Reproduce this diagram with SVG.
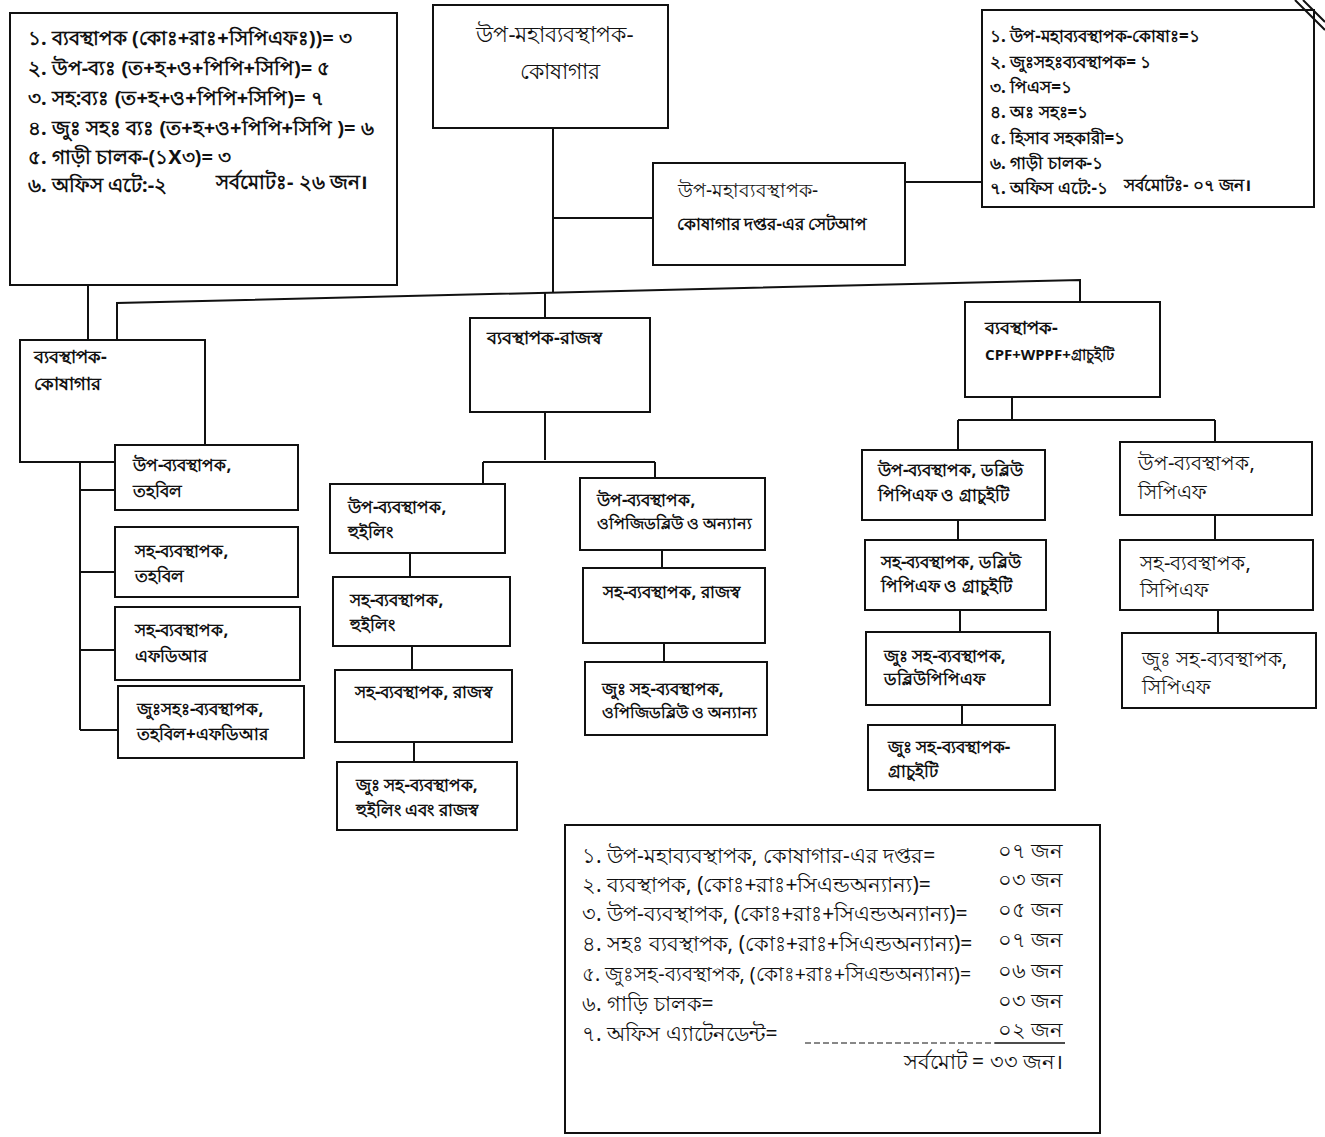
<svg xmlns="http://www.w3.org/2000/svg" width="1325" height="1137" viewBox="0 0 1325 1137">
<style>
.box{fill:#fff;stroke:#111;stroke-width:2}
.ln{stroke:#111;stroke-width:2;fill:none}
text{font-family:"Noto Sans","Liberation Sans",sans-serif;fill:#111}
.n{font-size:17px;font-weight:bold}
.nl{font-size:20px}
.mg{font-size:18px;font-weight:bold}
.tl{font-size:20px;font-weight:bold}
.tr{font-size:17px;font-weight:bold}
.sm{font-size:21px}
.ttl{font-size:22px}
</style>
<rect width="1325" height="1137" fill="#fff"/>
<g id="connectors">
<path class="ln" d="M553 128 V292"/>
<path class="ln" d="M553 218 H653"/>
<path class="ln" d="M905 182 H982"/>
<path class="ln" d="M117 340 V303 L1080 280 V302"/>
<path class="ln" d="M88 285 V340"/>
<path class="ln" d="M545 292 V318"/>
<path class="ln" d="M80 462 V730 M80 490 H115 M80 572 H115 M80 650 H115 M80 730 H118"/>
<path class="ln" d="M545 412 V460 M483 462 H655 M483 462 V484 M655 462 V478"/>
<path class="ln" d="M410 553 V577 M412 646 V670 M414 742 V762"/>
<path class="ln" d="M662 550 V568 M664 643 V662"/>
<path class="ln" d="M1012 397 V420 M958 420 H1215 M958 420 V450 M1215 420 V442"/>
<path class="ln" d="M958 520 V540 M960 610 V632 M962 705 V725"/>
<path class="ln" d="M1215 515 V540 M1218 610 V633"/>
</g>
<g id="note-left">
<rect class="box" x="10" y="13" width="387" height="272"/>
<text class="tl" x="28" y="45">১. ব্যবস্থাপক  (কোঃ+রাঃ+সিপিএফঃ))= ৩</text>
<text class="tl" x="28" y="75">২. উপ-ব্যঃ (ত+হ+ও+পিপি+সিপি)= ৫</text>
<text class="tl" x="28" y="105">৩. সহ:ব্যঃ (ত+হ+ও+পিপি+সিপি)= ৭</text>
<text class="tl" x="28" y="135">৪. জুঃ সহঃ ব্যঃ (ত+হ+ও+পিপি+সিপি  )= ৬</text>
<text class="tl" x="28" y="164">৫. গাড়ী চালক-(১X৩)= ৩</text>
<text class="tl" x="28" y="192">৬. অফিস এটে:-২</text>
<text class="tl" x="216" y="189">সর্বমোটঃ- ২৬ জন।</text>
</g>
<g id="dgm">
<rect class="box" x="433" y="5" width="235" height="123"/>
<text class="ttl" x="555" y="42" text-anchor="middle">উপ-মহাব্যবস্থাপক-</text>
<text class="ttl" x="560" y="79" text-anchor="middle">কোষাগার</text>
</g>
<g id="note-right">
<rect class="box" x="982" y="10" width="332" height="197"/>
<text class="tr" x="990" y="42">১. উপ-মহাব্যবস্থাপক-কোষাঃ=১</text>
<text class="tr" x="990" y="68">২. জুঃসহঃব্যবস্থাপক= ১</text>
<text class="tr" x="990" y="93">৩. পিএস=১</text>
<text class="tr" x="990" y="118">৪. অঃ সহঃ=১</text>
<text class="tr" x="990" y="144">৫. হিসাব সহকারী=১</text>
<text class="tr" x="990" y="169">৬. গাড়ী চালক-১</text>
<text class="tr" x="990" y="194">৭. অফিস এটে:-১</text>
<text class="tr" x="1124" y="191">সর্বমোটঃ- ০৭ জন।</text>
</g>
<g id="setup">
<rect class="box" x="653" y="163" width="252" height="102"/>
<text style="font-size:19px" x="678" y="197">উপ-মহাব্যবস্থাপক-</text>
<text style="font-size:17px;font-weight:bold" x="677" y="230">কোষাগার দপ্তর-এর সেটআপ</text>
</g>
<g id="mgr-treasury">
<rect class="box" x="20" y="340" width="185" height="122"/>
<text class="mg" x="34" y="363">ব্যবস্থাপক-</text>
<text class="mg" x="34" y="390">কোষাগার</text>
</g>
<g id="mgr-revenue">
<rect class="box" x="470" y="318" width="180" height="94"/>
<text class="mg" x="487" y="344">ব্যবস্থাপক-রাজস্ব</text>
</g>
<g id="mgr-cpf">
<rect class="box" x="965" y="302" width="195" height="95"/>
<text class="mg" x="985" y="334">ব্যবস্থাপক-</text>
<text style="font-size:15px;font-weight:bold" x="985" y="360">CPF+WPPF+গ্রাচুইটি</text>
</g>
<g id="t1">
<rect class="box" x="115" y="445" width="183" height="65"/>
<text class="n" x="133" y="471">উপ-ব্যবস্থাপক,</text>
<text class="n" x="133" y="497">তহবিল</text>
</g>
<g id="t2">
<rect class="box" x="115" y="527" width="183" height="70"/>
<text class="n" x="135" y="557">সহ-ব্যবস্থাপক,</text>
<text class="n" x="135" y="582">তহবিল</text>
</g>
<g id="t3">
<rect class="box" x="115" y="607" width="185" height="73"/>
<text class="n" x="135" y="636">সহ-ব্যবস্থাপক,</text>
<text class="n" x="135" y="662">এফডিআর</text>
</g>
<g id="t4">
<rect class="box" x="118" y="686" width="186" height="72"/>
<text class="n" x="137" y="715">জুঃসহঃ-ব্যবস্থাপক,</text>
<text class="n" x="137" y="740">তহবিল+এফডিআর</text>
</g>
<g id="w1">
<rect class="box" x="330" y="484" width="175" height="69"/>
<text class="n" x="348" y="513">উপ-ব্যবস্থাপক,</text>
<text class="n" x="348" y="538">হুইলিং</text>
</g>
<g id="w2">
<rect class="box" x="333" y="577" width="177" height="69"/>
<text class="n" x="350" y="606">সহ-ব্যবস্থাপক,</text>
<text class="n" x="350" y="631">হুইলিং</text>
</g>
<g id="w3">
<rect class="box" x="335" y="670" width="177" height="72"/>
<text class="n" x="355" y="698">সহ-ব্যবস্থাপক, রাজস্ব</text>
</g>
<g id="w4">
<rect class="box" x="337" y="762" width="180" height="68"/>
<text class="n" x="356" y="791">জুঃ সহ-ব্যবস্থাপক,</text>
<text class="n" x="356" y="816">হুইলিং এবং রাজস্ব</text>
</g>
<g id="o1">
<rect class="box" x="580" y="478" width="185" height="72"/>
<text class="n" x="597" y="506">উপ-ব্যবস্থাপক,</text>
<text style="font-size:16px;font-weight:bold" x="597" y="529">ওপিজিডব্লিউ ও অন্যান্য</text>
</g>
<g id="o2">
<rect class="box" x="583" y="568" width="182" height="75"/>
<text class="n" x="603" y="598">সহ-ব্যবস্থাপক, রাজস্ব</text>
</g>
<g id="o3">
<rect class="box" x="585" y="662" width="182" height="73"/>
<text class="n" x="602" y="695">জুঃ সহ-ব্যবস্থাপক,</text>
<text style="font-size:16px;font-weight:bold" x="602" y="718">ওপিজিডব্লিউ ও অন্যান্য</text>
</g>
<g id="p1">
<rect class="box" x="862" y="450" width="183" height="70"/>
<text class="n" x="878" y="476">উপ-ব্যবস্থাপক, ডব্লিউ</text>
<text class="n" x="878" y="501">পিপিএফ ও গ্রাচুইটি</text>
</g>
<g id="p2">
<rect class="box" x="865" y="540" width="181" height="70"/>
<text class="n" x="881" y="568">সহ-ব্যবস্থাপক, ডব্লিউ</text>
<text class="n" x="881" y="592">পিপিএফ ও গ্রাচুইটি</text>
</g>
<g id="p3">
<rect class="box" x="866" y="632" width="184" height="73"/>
<text class="n" x="884" y="662">জুঃ সহ-ব্যবস্থাপক,</text>
<text class="n" x="884" y="685">ডব্লিউপিপিএফ</text>
</g>
<g id="p4">
<rect class="box" x="868" y="725" width="187" height="65"/>
<text class="n" x="888" y="753">জুঃ সহ-ব্যবস্থাপক-</text>
<text class="n" x="888" y="777">গ্রাচুইটি</text>
</g>
<g id="c1">
<rect class="box" x="1120" y="442" width="192" height="73"/>
<text class="nl" x="1138" y="470">উপ-ব্যবস্থাপক,</text>
<text class="nl" x="1138" y="499">সিপিএফ</text>
</g>
<g id="c2">
<rect class="box" x="1120" y="540" width="193" height="70"/>
<text class="nl" x="1140" y="570">সহ-ব্যবস্থাপক,</text>
<text class="nl" x="1140" y="597">সিপিএফ</text>
</g>
<g id="c3">
<rect class="box" x="1122" y="633" width="194" height="75"/>
<text class="nl" x="1142" y="666">জুঃ সহ-ব্যবস্থাপক,</text>
<text class="nl" x="1142" y="694">সিপিএফ</text>
</g>
<g id="summary">
<rect class="box" x="565" y="825" width="535" height="308"/>
<text class="sm" x="582" y="863">১. উপ-মহাব্যবস্থাপক, কোষাগার-এর দপ্তর=</text>
<text class="sm" x="582" y="892">২. ব্যবস্থাপক, (কোঃ+রাঃ+সিএন্ডঅন্যান্য)=</text>
<text class="sm" x="582" y="921">৩. উপ-ব্যবস্থাপক, (কোঃ+রাঃ+সিএন্ডঅন্যান্য)=</text>
<text class="sm" x="582" y="951">৪. সহঃ ব্যবস্থাপক, (কোঃ+রাঃ+সিএন্ডঅন্যান্য)=</text>
<text style="font-size:19.5px" x="582" y="981">৫. জুঃসহ-ব্যবস্থাপক, (কোঃ+রাঃ+সিএন্ডঅন্যান্য)=</text>
<text class="sm" x="582" y="1011">৬. গাড়ি চালক=</text>
<text class="sm" x="582" y="1041">৭. অফিস এ্যাটেনডেন্ট=</text>
<g text-anchor="end">
<text class="sm" x="1063" y="858">০৭ জন</text>
<text class="sm" x="1063" y="887">০৩ জন</text>
<text class="sm" x="1063" y="917">০৫ জন</text>
<text class="sm" x="1063" y="947">০৭ জন</text>
<text class="sm" x="1063" y="978">০৬ জন</text>
<text class="sm" x="1063" y="1008">০৩ জন</text>
<text class="sm" x="1063" y="1037">০২ জন</text>
<text class="sm" x="1063" y="1069">সর্বমোট = ৩৩ জন।</text>
</g>
<path d="M805 1043 H995" stroke="#111" stroke-width="1" stroke-dasharray="6 3"/>
<path d="M995 1043 H1065" stroke="#111" stroke-width="1.5"/>
</g>
<path d="M1295 0 L1325 30 M1303 0 L1325 22" stroke="#111" stroke-width="2" fill="none"/>
</svg>
